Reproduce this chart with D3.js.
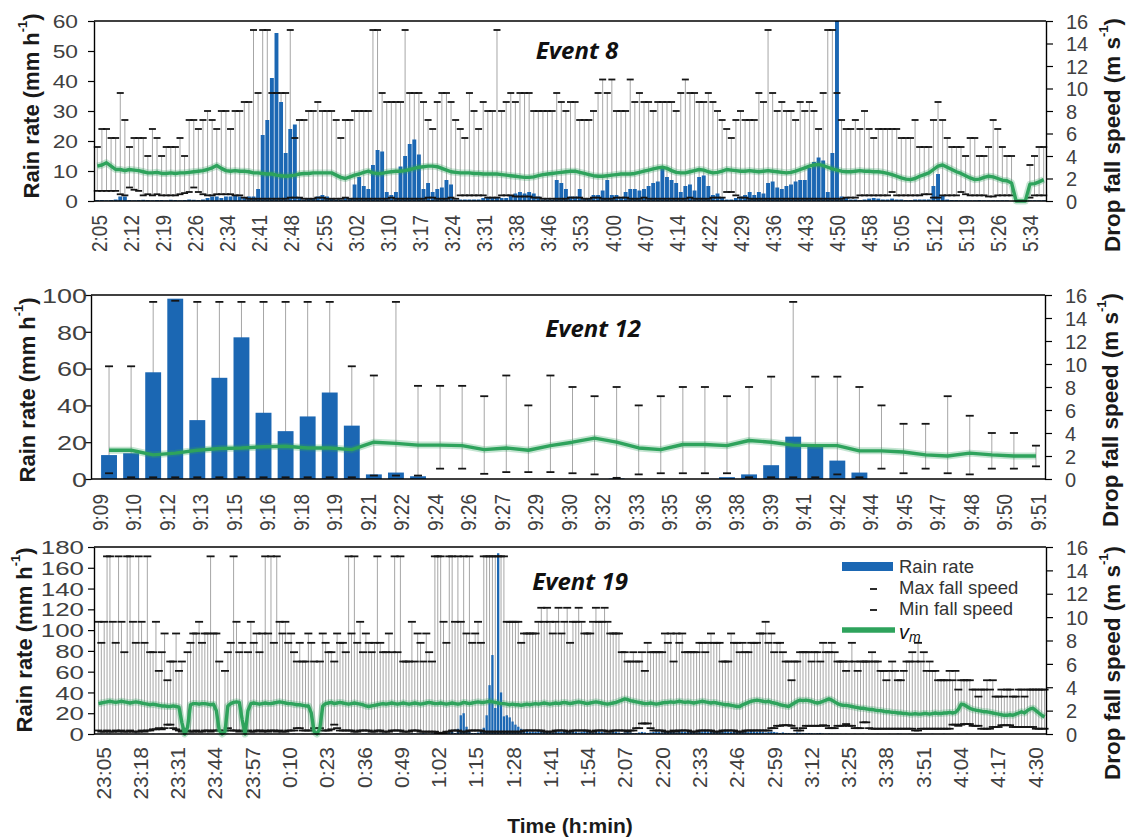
<!DOCTYPE html>
<html>
<head>
<meta charset="utf-8">
<script src="https://cdn.jsdelivr.net/npm/d3@7"></script>
<style>
  body { margin: 0; background: #fff; }
  svg { display: block; }
</style>
</head>
<body>
<script>
// ---------- Event 8 (one record per minute, 2:05 - 5:36) ----------
const ev8Ticks = ["2:05","2:12","2:19","2:26","2:34","2:41","2:48","2:55","3:02","3:10","3:17","3:24","3:31","3:38","3:46","3:53","4:00","4:07","4:14","4:22","4:29","4:36","4:43","4:50","4:58","5:05","5:12","5:19","5:26","5:34"];
const ev8RainTicks = [0,10,20,30,40,50,60];
const ev8Rain = [
  0.3,0.3,0.2,0.3,0.5,1.5,1.5,0.3,0.2,0.3,
  0.4,0.3,0.2,0.3,0.3,0.2,0.4,0.3,0.2,0.3,
  0.5,0.4,0.3,0.5,1,1.5,1.5,1,1.5,1.5,
  2,1.5,1,1.5,1.5,4,22,27,41,56,
  33,16,24,25.5,1,0.5,1,1,1.5,2,
  1.5,1,0.5,0.5,1,1,5.5,8,5,4,
  12,17,16.5,3,2,3,11.5,15,19,20.5,
  15.5,4,6,3,4,4.5,7,5.5,0.5,0.5,
  0.5,0.5,0.5,0.5,1,1,1,1,1,1,
  2,2.5,3,2.5,3,2.5,1.5,0.5,0.5,0.5,
  7,6,4,1.5,1.5,4,1,1,2,2,
  3.5,7,2,2,1,3,4,4,3.5,4,
  5,6,6.5,11.5,8,7,6,3,5,5.5,
  3.5,8,8.5,5,2,2.5,1,0.5,0.5,1,
  1.5,2,3,2,3,2.5,6,6.5,4.5,4,
  5,5.5,6.5,7,7,11,13,14.5,13.5,3,
  16,60,1.5,1,0.5,0.5,0.3,0.5,0.8,1,
  0.8,0.5,0.5,0.8,0.5,0.5,0.3,0.3,0.5,0.5,
  0.5,0.5,5,9,2,0.5,0.3,0.3,0.2,0.2,
  0.2,0.2,0.3,0.2,0.2,0.2,0.2,0.2,0.2,0,
  0,0,0,0.2,0.2,0.2,0.2
];
const ev8Vmax = [
  4.8,6.4,6.4,5.6,5.6,9.6,7.2,4.8,5.6,5.6,
  5.6,4.0,6.4,5.6,4.0,4.8,4.8,4.8,5.6,4.0,
  7.2,7.2,6.4,7.2,8.0,7.2,6.4,8.0,8.0,6.4,
  8.0,8.0,8.8,8.8,15.2,9.6,15.2,15.2,9.6,9.6,
  9.6,9.6,15.2,5.6,7.2,7.2,8.0,8.0,8.8,8.0,
  8.0,8.0,7.2,5.6,7.2,7.2,8.0,8.0,8.0,8.0,
  15.2,15.2,9.6,8.8,8.8,8.8,8.8,15.2,9.6,9.6,
  9.6,8.8,7.2,6.4,8.8,9.6,9.6,8.8,7.2,6.4,
  5.6,9.6,8.0,6.4,8.8,8.0,8.0,15.2,8.0,8.8,
  9.6,8.8,9.6,9.6,9.6,8.0,8.0,8.0,8.0,8.0,
  9.6,8.8,8.0,8.8,8.8,7.2,7.2,7.2,8.0,9.6,
  10.8,9.6,10.8,8.0,8.0,8.0,10.8,8.8,9.6,8.8,
  8.8,8.0,8.8,8.8,8.8,8.8,8.0,9.6,10.8,9.6,
  9.6,8.8,8.8,9.6,8.8,8.0,7.2,6.4,5.6,7.2,
  8.0,7.2,7.2,7.2,9.6,8.8,15.2,9.6,8.0,8.8,
  8.0,8.0,7.2,8.8,8.0,8.8,8.0,6.4,9.6,15.2,
  15.2,9.6,7.2,6.4,6.4,7.2,6.4,8.0,6.4,5.6,
  6.4,6.4,6.4,6.4,6.4,5.6,5.6,5.6,7.2,4.8,
  4.8,4.8,7.2,8.8,7.2,5.6,4.8,4.8,4.8,4.0,
  5.6,5.6,4.0,4.0,4.8,7.2,6.4,4.8,4.0,4.0,
  null,null,null,3.2,4.0,4.8,4.8
];
const ev8Vmin = [
  0.9,0.9,0.9,0.9,0.9,0.6,0.5,1.2,1.0,0.9,
  0.5,0.6,0.5,0.6,0.5,0.5,0.5,0.5,0.6,0.7,
  0.8,1.2,0.8,0.6,0.5,0.5,0.6,0.6,0.6,0.6,
  0.5,0.5,0.3,0.2,0.2,0.2,0.2,0.2,0.2,0.2,
  0.2,0.2,0.3,0.3,0.3,0.2,0.2,0.2,0.3,0.3,
  0.2,0.2,0.2,0.2,0.3,0.2,0.2,0.2,0.2,0.2,
  0.2,0.2,0.2,0.2,0.3,0.2,0.2,0.2,0.2,0.2,
  0.2,0.2,0.3,0.3,0.2,0.2,0.2,0.3,0.2,0.5,
  0.5,0.5,0.5,0.5,0.5,0.3,0.3,0.3,0.5,0.5,
  0.5,0.4,0.4,0.4,0.4,0.3,0.3,0.2,0.2,0.2,
  0.2,0.2,0.2,0.3,0.3,0.3,0.2,0.2,0.3,0.3,
  0.2,0.2,0.2,0.3,0.3,0.3,0.2,0.2,0.2,0.3,
  0.2,0.2,0.2,0.2,0.2,0.2,0.2,0.2,0.2,0.3,
  0.2,0.2,0.2,0.2,0.3,0.3,0.3,0.8,0.8,0.5,
  0.3,0.3,0.2,0.2,0.2,0.2,0.2,0.2,0.2,0.2,
  0.2,0.2,0.2,0.2,0.2,0.2,0.2,0.2,0.2,0.2,
  0.2,0.2,0.2,0.3,0.3,0.3,0.5,0.5,0.5,0.5,
  0.5,0.5,0.5,0.8,0.5,0.5,0.5,0.5,0.5,0.5,
  0.6,0.6,0.3,0.3,0.5,0.5,0.5,0.5,0.8,0.6,
  0.5,0.5,0.5,0.5,0.4,0.4,0.5,0.5,0.5,0.5,
  null,null,null,0.3,0.5,0.5,0.5
];
const ev8Vm = [
  3.1,3.2,3.4,3.1,2.8,2.8,2.7,2.8,2.75,2.7,
  2.6,2.5,2.5,2.55,2.45,2.45,2.5,2.45,2.5,2.5,
  2.55,2.6,2.65,2.7,2.8,2.95,3.15,2.9,2.7,2.65,
  2.7,2.65,2.65,2.6,2.5,2.5,2.45,2.4,2.4,2.3,
  2.25,2.2,2.25,2.3,2.4,2.45,2.45,2.5,2.5,2.5,
  2.5,2.5,2.3,2.1,2.0,2.15,2.3,2.4,2.55,2.65,
  2.5,2.45,2.45,2.55,2.6,2.65,2.65,2.7,2.8,2.9,
  3.0,3.05,3.1,3.1,3.05,2.9,2.75,2.6,2.55,2.5,
  2.5,2.5,2.45,2.45,2.4,2.4,2.4,2.4,2.35,2.3,
  2.25,2.2,2.15,2.1,2.1,2.15,2.25,2.35,2.4,2.45,
  2.5,2.55,2.6,2.65,2.65,2.55,2.45,2.35,2.25,2.2,
  2.2,2.25,2.3,2.35,2.4,2.4,2.4,2.45,2.55,2.65,
  2.75,2.85,2.95,3.0,2.9,2.7,2.55,2.5,2.5,2.6,
  2.7,2.8,2.75,2.6,2.5,2.55,2.65,2.8,2.75,2.7,
  2.65,2.65,2.7,2.65,2.6,2.65,2.7,2.65,2.6,2.55,
  2.5,2.55,2.65,2.8,2.95,3.1,3.2,3.25,3.15,3.0,
  2.85,2.75,2.65,2.6,2.6,2.65,2.7,2.65,2.65,2.6,
  2.6,2.55,2.45,2.35,2.2,2.05,1.95,1.9,2.0,2.2,
  2.35,2.5,2.8,3.1,3.2,3.0,2.8,2.6,2.45,2.25,
  2.05,1.9,1.95,2.1,2.2,2.15,2.0,1.85,1.8,1.6,
  0,0,0,1.5,1.55,1.7,1.9
];

// ---------- Event 12 (one record per minute, 9:09 - 9:51) ----------
const ev12Ticks = ["9:09","9:10","9:12","9:13","9:15","9:16","9:18","9:19","9:21","9:22","9:24","9:26","9:27","9:29","9:30","9:32","9:33","9:35","9:36","9:38","9:39","9:41","9:42","9:44","9:45","9:47","9:48","9:50","9:51"];
const ev12RainTicks = [0,20,40,60,80,100];
const ev12Rain = [13,14,58,98,32,55,77,36,26,34, 47,29,2.5,3.5,1.5,0,0,0,0,0, 0,0,0,0.3,0,0,0,0,1,2.5, 7.5,23,18,10,3.5,0,0,0,0,0, 0,0,0];
const ev12Vmax = [9.8,9.8,15.4,15.5,15.4,15.4,15.4,15.4,15.4,15.4, 15.4,9.8,9.0,15.4,8.1,8.1,8.1,7.2,9.0,6.4, 9.0,8.0,7.2,8.0,6.4,7.2,8.0,8.0,7.2,8.0, 8.9,15.4,8.9,8.9,8.0,6.4,4.8,4.8,7.2,5.5, 4.0,4.0,2.9];
const ev12Vmin = [0.5,0.15,0.15,0.15,0.15,0.15,0.15,0.15,0.15,0.15, 0.15,0.15,0.3,0.3,0.3,0.9,0.9,0.45,0.6,0.6, 0.6,0.5,0.4,0.1,0.4,0.5,0.5,0.5,0.5,0.15, 0.15,0.15,0.15,0.4,0.15,0.9,0.5,0.9,0.5,0.4, 0.9,0.9,1.1];
const ev12Vm = [2.5,2.5,2.1,2.25,2.5,2.65,2.7,2.8,2.85,2.7, 2.7,2.55,3.2,3.1,2.95,2.95,2.9,2.55,2.7,2.5, 2.9,3.2,3.55,3.2,2.7,2.55,3.0,3.0,2.9,3.35, 3.2,2.95,2.9,2.9,2.45,2.45,2.35,2.1,2.0,2.25, 2.1,2.0,2.0];

// ---------- Event 19 (one record per minute, 23:05 - 4:34) ----------
const ev19Ticks = ["23:05","23:18","23:31","23:44","23:57","0:10","0:23","0:36","0:49","1:02","1:15","1:28","1:41","1:54","2:07","2:20","2:33","2:46","2:59","3:12","3:25","3:38","3:51","4:04","4:17","4:30"];
const ev19RainTicks = [0,20,40,60,80,100,120,140,160,180];
const ev19Rain = [
  0,0.3,0,0.2,0.3,0,0,0.2,0.3,0,
  0.2,0,0,0.3,0.2,0,0.2,0,0,0.3,
  0,0.2,0,0,0,0.3,0.2,0,0,0,
  0,0,0.3,0.2,0,0,0.2,0,0.3,0,
  0,0.2,0,0,0,0.3,0,0.2,0,0,
  0,0,0,0.2,0.3,0,0.2,0,0,0.3,
  0.2,0,0,0.3,0,0,0.2,0,0.3,0,
  0,0.2,0,0,0,0,0,0,0.2,0.3,
  0.2,0,0.3,0,0.2,0,0,0.3,0,0.2,
  0,0,0.3,0.5,0.3,0,0.2,0,0.3,0.5,
  0.3,0.2,0,0.3,0.5,0.3,0.2,0,0.3,0.5,
  0.5,0.3,0.5,0.8,0.5,0.3,0.5,0.8,1,0.5,
  0.8,1,2,2,1,5,18,20,7,2,
  1,1,1.5,3,6,18,47,76,25,174,
  40,17,18,16,12,9,7,5,4,3,
  2,2.5,2,3,2.5,2,3,2,1.5,2,
  2.5,2,3,2,2.5,3,2,1.5,2,3,
  2.5,2,1.5,2,2.5,2,1.5,1,1.5,2,
  2,1.5,1,1.5,2,1.5,1,1,1.5,2,
  1.5,1,1.5,2,2.5,2,1.5,2,2.5,3,
  2,1.5,2,2.5,2,3,2.5,2,1.5,2,
  2.5,3,2.5,2,2.5,3,2.5,2,3,2.5,
  2,2.5,3,2.5,2,2.5,2,3,2.5,2,
  2.5,2,1.5,2,2.5,2,1.5,1,1.5,1,
  1,0.8,1,1.5,1.2,1,0.8,1,0.8,0.5,
  0.8,1,0.5,0.3,0.5,0.3,0.2,0.3,0.2,0,
  0.2,0,0,0.2,0,0,0.2,0,0,0,
  0,0.2,0,0,0,0.2,0,0,0.3,0.2,
  0,0,0.2,0,0,0,0.2,0,0,0,
  0.2,0,0,0,0.2,0,0,0,0,0.2,
  0,0,0.2,0,0,0,0,0,0,0,
  0,0,0,0,0,0,0,0,0,0,
  0,0,0,0,0,0,0,0,0,0
];
const ev19Vmax = [
  9.6,7.8,9.6,15.2,15.2,9.6,7.8,15.2,9.6,7.0,
  15.2,15.2,9.6,7.8,15.2,9.6,7.8,15.2,7.0,7.0,
  9.6,5.4,7.0,8.6,4.6,6.2,6.2,8.6,5.4,6.2,
  null,7.0,7.8,8.6,8.6,9.6,7.8,8.6,8.6,15.2,
  8.6,8.6,6.2,null,5.4,7.0,7.8,15.2,9.6,7.0,
  7.8,null,7.0,9.6,7.8,8.6,7.0,8.6,15.2,8.6,
  15.2,7.8,15.2,9.6,8.6,9.6,7.8,8.6,7.0,6.2,
  7.8,6.2,6.2,8.6,7.8,6.2,null,6.2,8.6,7.8,
  7.0,7.0,6.2,8.6,7.8,7.8,7.0,15.2,8.6,15.2,
  7.8,9.6,7.0,8.6,7.8,7.0,7.8,15.2,7.8,7.0,
  7.0,8.6,7.0,15.2,7.0,15.2,6.2,6.2,6.2,9.6,
  6.2,8.6,7.8,6.2,8.6,7.0,6.2,15.2,15.2,15.2,
  9.6,7.8,15.2,15.2,9.6,15.2,9.6,15.2,8.6,15.2,
  7.8,8.6,9.6,7.8,15.2,15.2,15.2,15.2,15.2,15.2,
  15.2,15.2,9.6,9.6,9.6,9.6,9.6,7.8,8.6,8.6,
  8.6,8.6,8.6,9.6,10.8,9.6,10.8,9.6,8.6,9.6,
  10.8,8.6,9.6,10.8,7.8,9.6,9.6,10.8,9.6,8.6,
  8.6,8.6,9.6,10.8,9.6,9.6,10.8,9.6,8.6,8.6,
  8.6,8.6,7.0,7.0,6.2,6.2,7.0,6.2,6.2,7.0,
  5.4,7.8,7.0,7.0,7.0,7.0,7.0,8.6,7.8,8.6,
  6.2,8.6,7.8,8.6,7.0,7.0,7.0,7.0,7.0,7.8,
  7.8,7.0,7.8,8.6,7.8,7.8,7.8,6.2,6.2,6.2,
  8.6,7.8,7.8,7.0,7.8,7.0,7.0,7.8,7.8,7.8,
  8.6,8.6,9.6,7.8,8.6,7.0,7.8,7.8,7.0,6.2,
  6.2,4.6,6.2,6.2,7.0,7.0,7.0,7.0,6.2,7.0,
  7.0,6.2,7.8,7.0,7.0,7.8,7.0,6.2,6.2,6.2,
  5.4,6.2,7.8,6.2,5.4,6.2,6.2,6.2,6.2,7.0,
  6.2,6.2,5.4,5.4,4.6,5.4,6.2,5.4,4.6,4.6,
  5.4,6.2,6.2,7.0,6.2,7.8,6.2,7.0,5.4,6.2,
  5.4,5.4,4.6,4.6,4.6,4.6,5.4,4.6,5.4,3.8,
  4.6,4.6,4.6,4.6,3.8,3.8,3.2,3.8,3.8,4.6,
  3.8,4.6,3.2,3.2,3.8,3.2,3.8,3.8,3.2,3.2,
  3.8,3.8,3.2,3.8,3.8,3.8,3.8,3.8,3.8,3.8
];
const ev19Vmin = [
  0.3,0.2,0.2,0.3,0.2,0.2,0.3,0.2,0.3,0.2,
  0.2,0.3,0.2,0.2,0.2,0.3,0.2,0.3,0.3,0.4,
  0.4,0.5,0.4,0.5,0.8,0.8,0.5,0.4,0.3,0.2,
  null,0.3,0.2,0.2,0.3,0.2,0.2,0.3,0.3,0.2,
  0.3,0.3,0.3,null,0.3,0.5,0.3,0.3,0.3,0.2,
  0.3,null,0.3,0.2,0.2,0.3,0.3,0.2,0.3,0.2,
  0.3,0.3,0.2,0.3,0.2,0.2,0.3,0.3,0.3,0.5,
  0.5,0.3,0.3,0.3,0.3,0.5,null,0.5,0.3,0.3,
  0.3,0.4,0.8,0.5,0.3,0.3,0.3,0.3,0.3,0.2,
  0.2,0.3,0.3,0.3,0.3,0.2,0.2,0.3,0.3,0.2,
  0.2,0.2,0.3,0.3,0.3,0.3,0.2,0.2,0.2,0.3,
  0.3,0.3,0.2,0.2,0.2,0.2,0.2,0.2,0.1,0.1,
  0.1,0.2,0.2,0.3,0.3,0.3,0.2,0.2,0.2,0.3,
  0.3,0.3,0.3,0.3,0.2,0.2,0.2,0.2,0.2,0.2,
  0.2,0.2,0.2,0.2,0.2,0.2,0.2,0.2,0.3,0.3,
  0.3,0.3,0.3,0.3,0.3,0.2,0.2,0.2,0.2,0.3,
  0.3,0.3,0.3,0.2,0.2,0.3,0.3,0.3,0.3,0.3,
  0.3,0.2,0.2,0.3,0.3,0.3,0.3,0.2,0.2,0.3,
  0.3,0.3,0.3,0.3,0.2,0.3,0.3,0.5,0.5,0.9,
  0.9,0.9,0.5,0.3,0.3,0.3,0.3,0.2,0.2,0.2,
  0.3,0.2,0.3,0.3,0.3,0.3,0.2,0.2,0.2,0.3,
  0.3,0.3,0.3,0.3,0.2,0.2,0.2,0.3,0.3,0.3,
  0.3,0.3,0.2,0.2,0.2,0.3,0.3,0.3,0.3,0.3,
  0.3,0.3,0.3,0.3,0.5,0.5,0.7,0.7,0.75,0.75,
  0.75,0.7,0.5,0.3,0.3,0.5,0.7,0.7,0.7,0.7,
  0.7,0.7,0.75,0.7,0.5,0.5,0.5,0.7,0.7,0.7,
  0.85,0.7,0.7,0.5,0.5,0.5,1.0,1.0,0.5,0.45,
  0.45,0.45,0.45,0.45,0.45,0.45,0.45,0.45,0.45,0.45,
  0.45,0.45,0.45,0.45,0.3,0.3,0.45,0.45,0.45,0.45,
  0.45,0.45,0.45,0.45,0.45,0.45,0.45,0.8,0.8,0.7,
  0.8,0.85,0.85,0.85,0.7,0.7,0.7,0.45,0.45,0.45,
  0.45,0.6,0.6,0.6,0.75,0.75,0.75,0.75,0.6,0.6,
  0.6,0.6,0.6,0.6,0.6,0.6,0.45,0.45,0.45,0.45
];
const ev19Vm = [
  2.6,2.65,2.7,2.75,2.8,2.75,2.7,2.75,2.8,2.75,
  2.7,2.65,2.7,2.75,2.7,2.65,2.6,2.55,2.5,2.55,
  2.5,2.45,2.4,2.4,2.35,2.35,2.4,2.35,2.3,1.0,
  0,0.6,2.5,2.6,2.6,2.55,2.6,2.6,2.55,2.5,
  2.55,2.0,0.3,0,0.2,2.4,2.6,2.7,2.75,2.7,
  1.2,0,2.0,2.6,2.65,2.6,2.55,2.6,2.65,2.6,
  2.6,2.65,2.7,2.75,2.7,2.65,2.6,2.6,2.55,2.5,
  2.5,2.45,2.4,2.4,1.8,0.2,0,0.5,2.4,2.6,
  2.65,2.7,2.6,2.65,2.7,2.65,2.6,2.55,2.6,2.65,
  2.6,2.55,2.5,2.4,2.35,2.4,2.45,2.5,2.55,2.6,
  2.55,2.6,2.65,2.6,2.55,2.6,2.65,2.6,2.55,2.6,
  2.65,2.6,2.55,2.6,2.65,2.7,2.65,2.6,2.6,2.65,
  2.6,2.55,2.6,2.65,2.6,2.55,2.6,2.7,2.65,2.6,
  2.65,2.7,2.75,2.7,2.7,2.75,2.8,2.75,2.7,2.65,
  2.6,2.6,2.55,2.5,2.55,2.5,2.5,2.45,2.5,2.55,
  2.5,2.55,2.6,2.55,2.6,2.65,2.6,2.55,2.6,2.65,
  2.6,2.65,2.7,2.65,2.6,2.65,2.7,2.75,2.7,2.65,
  2.6,2.65,2.7,2.75,2.7,2.65,2.6,2.55,2.6,2.65,
  2.7,2.8,2.9,3.0,2.95,2.85,2.8,2.75,2.7,2.65,
  2.6,2.6,2.65,2.6,2.55,2.6,2.65,2.7,2.7,2.75,
  2.7,2.75,2.8,2.75,2.7,2.75,2.7,2.65,2.7,2.75,
  2.8,2.75,2.7,2.65,2.7,2.65,2.6,2.55,2.5,2.5,
  2.45,2.4,2.35,2.35,2.5,2.6,2.7,2.8,2.85,2.9,
  2.85,2.8,2.75,2.8,2.7,2.65,2.6,2.5,2.45,2.4,
  2.35,2.5,2.65,2.8,2.9,2.85,2.9,2.85,2.8,2.7,
  2.65,2.7,2.8,2.9,3.0,2.9,2.75,2.6,2.5,2.45,
  2.45,2.4,2.35,2.3,2.25,2.2,2.2,2.15,2.1,2.1,
  2.05,2.0,2.0,1.95,1.9,1.9,1.85,1.85,1.8,1.8,
  1.75,1.75,1.7,1.7,1.75,1.7,1.7,1.75,1.75,1.7,
  1.75,1.8,1.75,1.75,1.8,1.8,1.85,1.8,1.85,2.1,
  2.55,2.5,2.35,2.2,2.1,2.05,2.0,1.95,1.9,1.9,
  1.85,1.8,1.75,1.7,1.65,1.6,1.6,1.65,1.6,1.7,
  1.8,1.9,1.8,2.0,2.15,2.2,2.0,1.8,1.6,1.45
];

const speedTicks = [0,2,4,6,8,10,12,14,16];

// ---------- drawing ----------
const W = 1126, H = 839;
const FONT = '"Liberation Sans", Arial, sans-serif';
const BAR = '#1b67b3', GREEN = '#2ea35c', CAP = '#151515', WHISKER = '#a6a6a6', TXT = '#404040';

const svg = d3.select('body').append('svg').attr('width', W).attr('height', H);
svg.append('rect').attr('width', W).attr('height', H).attr('fill', '#fff');

const panels = [
  { name: 'Event 8', rain: ev8Rain, vmax: ev8Vmax, vmin: ev8Vmin, vm: ev8Vm, ticks: ev8Ticks,
    rainTicks: ev8RainTicks, rainMax: 60, top: 21, bottom: 201, left: 94, right: 1046,
    band: [95, 1046], pad: 0.15, tickRange: [99, 1030], capW: 7,
    leftLabelRight: 78, leftFont: 19, leftScale: 1.2, tickFont: 19, tickScale: 1.15, tickGap: 14,
    leftTitle: [31, 106, 22], rightTitle: [1112, 135, 22.5], nameAt: [577, 59] },
  { name: 'Event 12', rain: ev12Rain, vmax: ev12Vmax, vmin: ev12Vmin, vm: ev12Vm, ticks: ev12Ticks,
    rainTicks: ev12RainTicks, rainMax: 100, top: 295, bottom: 479, left: 91, right: 1045,
    band: [98, 1047], pad: 0.28, tickRange: [100, 1038], capW: 8,
    leftLabelRight: 87, leftFont: 20, leftScale: 1.35, tickFont: 19, tickScale: 1.15, tickGap: 15,
    leftTitle: [27, 390, 22], rightTitle: [1110, 410, 22.5], nameAt: [593, 337] },
  { name: 'Event 19', rain: ev19Rain, vmax: ev19Vmax, vmin: ev19Vmin, vm: ev19Vm, ticks: ev19Ticks,
    rainTicks: ev19RainTicks, rainMax: 180, top: 547, bottom: 734, left: 94, right: 1046,
    band: [97, 1046], pad: 0.2, tickRange: [103, 1035], capW: 8,
    leftLabelRight: 84, leftFont: 18.5, leftScale: 1.4, tickFont: 21, tickScale: 1.0, tickGap: 13,
    leftTitle: [24, 640, 22], rightTitle: [1112, 663, 22.5], nameAt: [580, 590] }
];

function rotatedTitle(g, pos, parts) {
  const [x, y, size] = pos;
  const t = g.append('text')
    .attr('transform', `translate(${x},${y}) rotate(-90)`)
    .attr('text-anchor', 'middle').attr('dominant-baseline', 'central')
    .attr('font-family', FONT).attr('font-weight', 'bold').attr('font-size', size)
    .attr('fill', '#1a1a1a');
  t.append('tspan').text(parts[0]);
  t.append('tspan').attr('font-size', size * 0.58).attr('dy', -size * 0.42).text(parts[1]);
  t.append('tspan').attr('dy', size * 0.42).text(parts[2]);
}

function drawPanel(p) {
  const g = svg.append('g');
  const n = p.rain.length;
  const idx = d3.range(n);
  const x = d3.scaleBand().domain(idx).range(p.band).paddingInner(p.pad).paddingOuter(p.pad / 2);
  const cx = i => x(i) + x.bandwidth() / 2;
  const yL = d3.scaleLinear().domain([0, p.rainMax]).range([p.bottom, p.top]);
  const yR = d3.scaleLinear().domain([0, 16]).range([p.bottom, p.top]);
  const withSpeed = idx.filter(i => p.vmax[i] != null);

  // whiskers from min to max fall speed
  g.append('g').selectAll('line').data(withSpeed).join('line')
    .attr('x1', cx).attr('x2', cx)
    .attr('y1', i => yR(p.vmin[i])).attr('y2', i => yR(p.vmax[i]))
    .attr('stroke', WHISKER).attr('stroke-width', 1);

  // rain rate bars
  g.append('g').selectAll('rect').data(idx.filter(i => p.rain[i] > 0)).join('rect')
    .attr('x', i => x(i)).attr('width', x.bandwidth())
    .attr('y', i => yL(p.rain[i])).attr('height', i => p.bottom - yL(p.rain[i]))
    .attr('fill', BAR);

  // max / min fall speed caps
  const caps = g.append('g').attr('stroke', CAP).attr('stroke-width', 1.8);
  caps.selectAll('line.mx').data(withSpeed).join('line').attr('class', 'mx')
    .attr('x1', i => cx(i) - p.capW / 2).attr('x2', i => cx(i) + p.capW / 2)
    .attr('y1', i => yR(p.vmax[i])).attr('y2', i => yR(p.vmax[i]));
  caps.selectAll('line.mn').data(withSpeed).join('line').attr('class', 'mn')
    .attr('x1', i => cx(i) - p.capW / 2).attr('x2', i => cx(i) + p.capW / 2)
    .attr('y1', i => yR(p.vmin[i])).attr('y2', i => yR(p.vmin[i]));

  // mean fall speed v_m
  const line = d3.line().x((d, i) => cx(i)).y(d => yR(d)).defined(d => d != null);
  g.append('path').datum(p.vm).attr('d', line).attr('fill', 'none')
    .attr('stroke', GREEN).attr('stroke-opacity', 0.28).attr('stroke-width', 7)
    .attr('stroke-linejoin', 'round');
  g.append('path').datum(p.vm).attr('d', line).attr('fill', 'none')
    .attr('stroke', GREEN).attr('stroke-width', 3.4).attr('stroke-linejoin', 'round');

  // frame: top and bottom lines
  g.append('line').attr('x1', p.left).attr('x2', p.right).attr('y1', p.top).attr('y2', p.top)
    .attr('stroke', '#000').attr('stroke-width', 1.4);
  g.append('line').attr('x1', p.left).attr('x2', p.right).attr('y1', p.bottom).attr('y2', p.bottom)
    .attr('stroke', '#000').attr('stroke-width', 1.4);

  // left axis (rain rate)
  const axL = g.append('g').attr('transform', `translate(${p.left},0)`)
    .call(d3.axisLeft(yL).tickValues(p.rainTicks).tickSize(6).tickSizeOuter(0));
  axL.attr('font-size', null).attr('font-family', null);
  axL.select('.domain').attr('stroke', '#000').attr('stroke-width', 1.4);
  axL.selectAll('.tick line').attr('stroke', '#000').attr('stroke-width', 1.2);
  axL.selectAll('.tick text')
    .attr('x', 0).attr('dy', '0.36em').attr('text-anchor', 'end')
    .attr('transform', `translate(${p.leftLabelRight - p.left},0) scale(${p.leftScale},1)`)
    .attr('font-family', FONT).attr('font-size', p.leftFont).attr('fill', TXT);

  // right axis (fall speed)
  const axR = g.append('g').attr('transform', `translate(${p.right},0)`)
    .call(d3.axisRight(yR).tickValues(speedTicks).tickSize(7).tickSizeOuter(0));
  axR.attr('font-size', null).attr('font-family', null);
  axR.select('.domain').attr('stroke', '#000').attr('stroke-width', 1.4);
  axR.selectAll('.tick line').attr('stroke', '#000').attr('stroke-width', 1.2);
  axR.selectAll('.tick text')
    .attr('x', 20).attr('dy', '0.36em').attr('text-anchor', 'start')
    .attr('font-family', FONT).attr('font-size', 20).attr('fill', TXT);

  // time labels, rotated
  const xt = d3.scalePoint().domain(p.ticks).range(p.tickRange);
  g.append('g').selectAll('text').data(p.ticks).join('text')
    .attr('transform', d => `translate(${xt(d)},${p.bottom + p.tickGap}) scale(${p.tickScale},1) rotate(-90)`)
    .attr('text-anchor', 'end').attr('dy', '0.36em')
    .attr('font-family', FONT).attr('font-size', p.tickFont).attr('fill', TXT)
    .text(d => d);

  // axis titles
  rotatedTitle(g, p.leftTitle, ['Rain rate (mm h', '-1', ')']);
  rotatedTitle(g, p.rightTitle, ['Drop fall speed (m s', '-1', ')']);

  // event name
  g.append('text').attr('x', p.nameAt[0]).attr('y', p.nameAt[1])
    .attr('text-anchor', 'middle')
    .attr('font-family', '"Noto Sans", "Open Sans", sans-serif')
    .attr('font-weight', 'bold').attr('font-style', 'italic').attr('font-size', 24)
    .attr('fill', '#111').text(p.name);
}

panels.forEach(drawPanel);

// legend (inside the Event 19 panel)
const lg = svg.append('g');
lg.append('rect').attr('x', 838).attr('y', 553).attr('width', 200).attr('height', 88).attr('fill', '#fff');
lg.append('rect').attr('x', 842).attr('y', 562).attr('width', 51).attr('height', 9).attr('fill', BAR);
lg.append('line').attr('x1', 870).attr('x2', 877).attr('y1', 589).attr('y2', 589).attr('stroke', CAP).attr('stroke-width', 1.8);
lg.append('line').attr('x1', 870).attr('x2', 877).attr('y1', 610).attr('y2', 610).attr('stroke', CAP).attr('stroke-width', 1.8);
lg.append('line').attr('x1', 842).attr('x2', 895).attr('y1', 630).attr('y2', 630).attr('stroke', GREEN).attr('stroke-width', 5.5);
const legendText = [['Rain rate', 573], ['Max fall speed', 594], ['Min fall speed', 615]];
lg.selectAll('text.lt').data(legendText).join('text').attr('class', 'lt')
  .attr('x', 899).attr('y', d => d[1])
  .attr('font-family', FONT).attr('font-size', 18.5).attr('fill', '#333')
  .text(d => d[0]);
const vmText = lg.append('text').attr('x', 899).attr('y', 639)
  .attr('font-family', FONT).attr('font-size', 20).attr('font-style', 'italic').attr('fill', '#111');
vmText.append('tspan').text('v');
vmText.append('tspan').attr('font-size', 14).attr('dy', 3).text('m');

// shared x-axis title
svg.append('text').attr('x', 570).attr('y', 833).attr('text-anchor', 'middle')
  .attr('font-family', FONT).attr('font-weight', 'bold').attr('font-size', 21)
  .attr('fill', '#1a1a1a').text('Time (h:min)');
</script>
</body>
</html>
